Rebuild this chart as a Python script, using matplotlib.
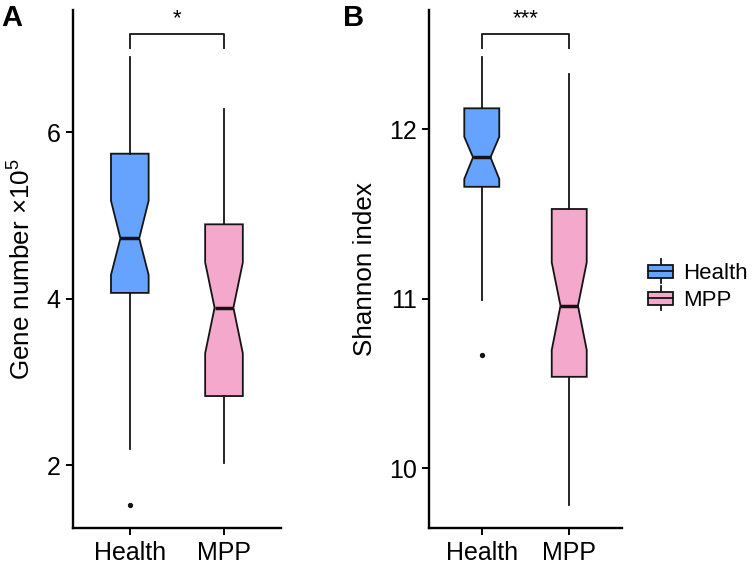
import matplotlib
matplotlib.use("Agg")
import matplotlib.pyplot as plt
from matplotlib.legend_handler import HandlerBase
from matplotlib.patches import Rectangle
from matplotlib.lines import Line2D

plt.rcParams['font.family'] = ['Liberation Sans', 'DejaVu Sans']
plt.rcParams['mathtext.fontset'] = 'custom'
plt.rcParams['mathtext.rm'] = 'Liberation Sans'
plt.rcParams['mathtext.it'] = 'Liberation Sans'

# ---------------- data ----------------
groups = ["Health", "MPP"]
colors = ["#66A3FF", "#F4A8CB"]

# Panel A: gene number (x1e5)
gene_whislo = [2.19, 2.03]
gene_q1 = [4.07, 2.83]
gene_cilo = [4.285, 3.344]
gene_med = [4.726, 3.892]
gene_cihi = [5.178, 4.437]
gene_q3 = [5.743, 4.894]
gene_whishi = [6.90, 6.28]
gene_fliers = [[1.52], []]
gene_sig = "*"

# Panel B: Shannon index
sh_whislo = [10.993, 9.785]
sh_q1 = [11.661, 10.540]
sh_cilo = [11.707, 10.698]
sh_med = [11.835, 10.959]
sh_cihi = [11.956, 11.215]
sh_q3 = [12.124, 11.530]
sh_whishi = [12.425, 12.326]
sh_fliers = [[10.668], []]
sh_sig = "***"

gene_ticks = [2, 4, 6]
sh_ticks = [10, 11, 12]


def make_stats(whislo, q1, cilo, med, cihi, q3, whishi, fliers):
    out = []
    for i in range(len(groups)):
        out.append(dict(whislo=whislo[i], q1=q1[i], cilo=cilo[i], med=med[i],
                        cihi=cihi[i], q3=q3[i], whishi=whishi[i],
                        fliers=fliers[i], label=groups[i]))
    return out


fig = plt.figure(figsize=(7.56, 5.70), dpi=100)
axA = fig.add_axes([73.3 / 756, 1 - 528 / 570, (280.5 - 73.3) / 756, (528 - 10) / 570])
axB = fig.add_axes([429.3 / 756, 1 - 528 / 570, (621.7 - 429.3) / 756, (528 - 10) / 570])

lw = 1.3
ink = '#141414'


def draw(ax, stats, ylim, ticks, ylabel, sig, lab_x, bracket_lo, bracket_hi, star_y):
    bp = ax.bxp(stats, positions=[1, 2], widths=0.4, shownotches=True,
                showcaps=False, patch_artist=True,
                boxprops=dict(linewidth=lw, edgecolor=ink),
                whiskerprops=dict(linewidth=lw, color=ink),
                medianprops=dict(linewidth=2.5, color=ink, solid_capstyle='butt'),
                flierprops=dict(marker='o', markersize=2.8, markerfacecolor=ink,
                                markeredgecolor=ink))
    for patch, c in zip(bp['boxes'], colors):
        patch.set_facecolor(c)
    ax.set_xlim(0.4, 2.6)
    ax.set_ylim(*ylim)
    ax.set_yticks(ticks)
    ax.set_xticks([1, 2])
    ax.set_xticklabels(groups)
    for s in ['top', 'right']:
        ax.spines[s].set_visible(False)
    for s in ['left', 'bottom']:
        ax.spines[s].set_linewidth(1.7)
    ax.tick_params(axis='both', length=5, width=1.4, labelsize=18, colors='black', pad=4)
    ax.set_ylabel(ylabel, fontsize=18.7)
    ax.yaxis.set_label_coords(lab_x, 0.5)
    # significance bracket
    ax.plot([1, 1, 2, 2], [bracket_lo, bracket_hi, bracket_hi, bracket_lo],
            color=ink, linewidth=lw, solid_capstyle='butt')
    ax.text(1.5, star_y, sig, ha='center', va='center', fontsize=16)


draw(axA, make_stats(gene_whislo, gene_q1, gene_cilo, gene_med, gene_cihi, gene_q3,
                     gene_whishi, gene_fliers),
     (1.244, 7.47), gene_ticks, r'Gene number ×10$^{5}$', gene_sig, -0.18,
     7.00, 7.178, 7.36)
draw(axB, make_stats(sh_whislo, sh_q1, sh_cilo, sh_med, sh_cihi, sh_q3,
                     sh_whishi, sh_fliers),
     (9.648, 12.704), sh_ticks, 'Shannon index', sh_sig, -0.27,
     12.474, 12.56, 12.655)

fig.text(12 / 756, 1 - 18 / 570, "A", fontsize=21, fontweight='bold', ha='center', va='center')
fig.text(354 / 756, 1 - 18 / 570, "B", fontsize=21, fontweight='bold', ha='center', va='center')


class HandlerBox(HandlerBase):
    def __init__(self, color):
        super().__init__()
        self.color = color

    def create_artists(self, legend, orig_handle, xdescent, ydescent, width, height,
                       fontsize, trans):
        cx = width / 2 - xdescent
        cy = height / 2 - ydescent
        bh = height * 0.56
        wl = Line2D([cx, cx], [cy - height / 2, cy + height / 2], color=ink,
                    linewidth=lw, transform=trans)
        rect = Rectangle((-xdescent, cy - bh / 2), width, bh, facecolor=self.color,
                         edgecolor=ink, linewidth=lw, transform=trans)
        ml = Line2D([-xdescent, width - xdescent], [cy, cy], color=ink,
                    linewidth=lw, transform=trans)
        return [wl, rect, ml]


handles = [Rectangle((0, 0), 1, 1) for _ in groups]
hmap = {h: HandlerBox(c) for h, c in zip(handles, colors)}
fig.legend(handles, groups, handler_map=hmap, loc='center left',
           bbox_to_anchor=(648.3 / 756, 1 - 285 / 570), frameon=False,
           fontsize=16, handlelength=1.1, handleheight=1.25, handletextpad=0.45,
           labelspacing=0.12, borderpad=0, borderaxespad=0)

fig.savefig("out.png", dpi=100)
